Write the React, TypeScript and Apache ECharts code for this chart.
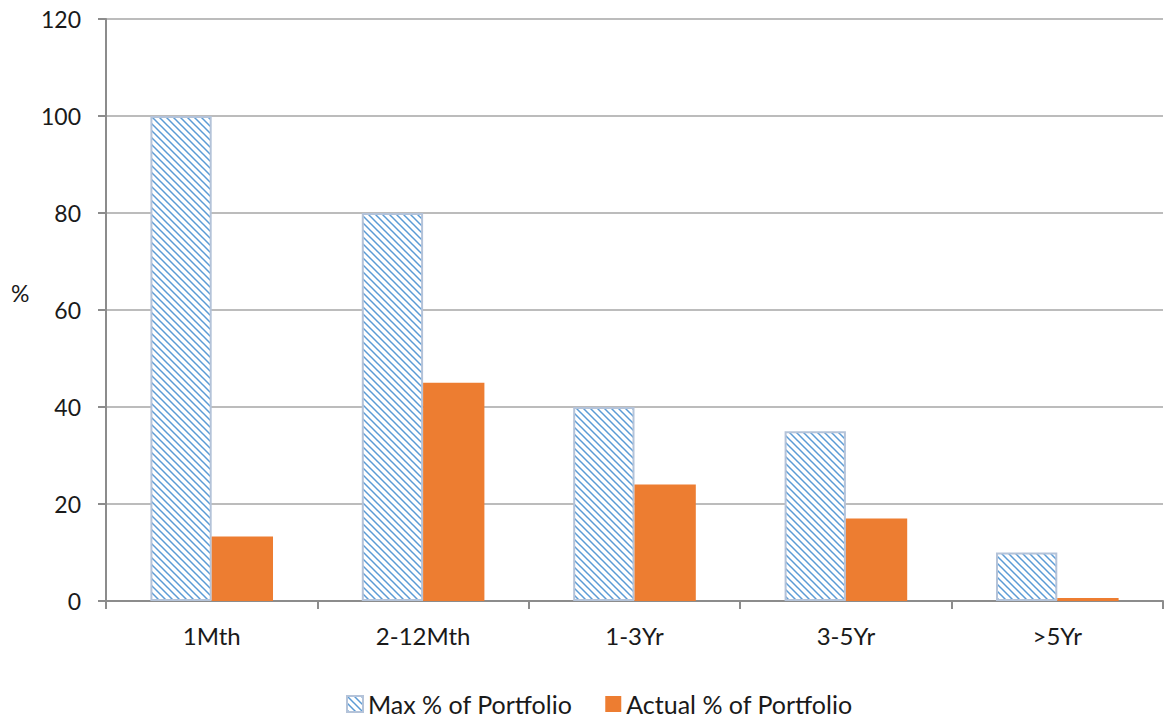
import React, { useEffect, useRef } from "react";
import * as echarts from "echarts";

const categories = ["1Mth", "2-12Mth", "1-3Yr", "3-5Yr", ">5Yr"];
const maxPortfolio = [100, 80, 40, 35, 10];
const actualPortfolio = [13.3, 45, 24, 17, 0.6];
const seriesNames = ["Max % of Portfolio", "Actual % of Portfolio"];

function makePattern(): HTMLCanvasElement {
  const c = document.createElement("canvas");
  c.width = 7;
  c.height = 7;
  const ctx = c.getContext("2d")!;
  ctx.fillStyle = "#ffffff";
  ctx.fillRect(0, 0, 7, 7);
  ctx.strokeStyle = "#5b9bd5";
  ctx.lineWidth = 1.5;
  ctx.beginPath();
  ctx.moveTo(-2, -2);
  ctx.lineTo(9, 9);
  ctx.moveTo(-2, 5);
  ctx.lineTo(2, 9);
  ctx.moveTo(5, -2);
  ctx.lineTo(9, 2);
  ctx.stroke();
  return c;
}

export default function App() {
  const ref = useRef<HTMLDivElement>(null);
  useEffect(() => {
    if (!ref.current) return;
    const chart = echarts.init(ref.current, undefined, { renderer: "svg" });
    const pattern = { image: makePattern(), repeat: "repeat" } as any;
    const font = "Lato, 'Open Sans', sans-serif";
    chart.setOption({
      animation: false,
      textStyle: { fontFamily: font },
      grid: { left: 106, right: 1, top: 19, bottom: 121, containLabel: false },
      legend: {
        top: 691,
        left: 346,
        padding: 0,
        itemWidth: 16,
        itemHeight: 16,
        itemGap: 33,
        textStyle: { fontSize: 25, lineHeight: 26, color: "#1a1a1a", fontFamily: font },
        data: [
          { name: seriesNames[0], icon: "rect" },
          { name: seriesNames[1], icon: "rect" },
        ],
      },
      graphic: [
        {
          type: "text",
          left: 11,
          top: 281,
          style: { text: "%", fontSize: 23, fill: "#1a1a1a", fontFamily: font },
        },
      ],
      xAxis: {
        type: "category",
        data: categories,
        axisLine: { lineStyle: { color: "#8c8c8c", width: 2 } },
        axisTick: { show: true, length: 8, lineStyle: { color: "#8c8c8c", width: 2 } },
        axisLabel: { fontSize: 24, color: "#1a1a1a", margin: 22, fontFamily: font },
      },
      yAxis: {
        type: "value",
        min: 0,
        max: 120,
        interval: 20,
        axisLine: { show: true, lineStyle: { color: "#8c8c8c", width: 2 } },
        axisTick: { show: true, length: 8, lineStyle: { color: "#8c8c8c", width: 2 } },
        axisLabel: { fontSize: 23, color: "#1a1a1a", margin: 25, fontFamily: font },
        splitLine: { lineStyle: { color: "#a6a6a6", width: 1.5 } },
      },
      series: [
        {
          name: seriesNames[0],
          type: "bar",
          data: maxPortfolio,
          barGap: "0%",
          barCategoryGap: "42%",
          itemStyle: { color: pattern, borderColor: "#b4c3d9", borderWidth: 2 },
        },
        {
          name: seriesNames[1],
          type: "bar",
          data: actualPortfolio,
          itemStyle: { color: "#ed7d31" },
        },
      ],
    });
    return () => chart.dispose();
  }, []);
  return (
    <div
      ref={ref}
      style={{ position: "absolute", left: 0, top: 0, width: 1164, height: 722 }}
    />
  );
}
